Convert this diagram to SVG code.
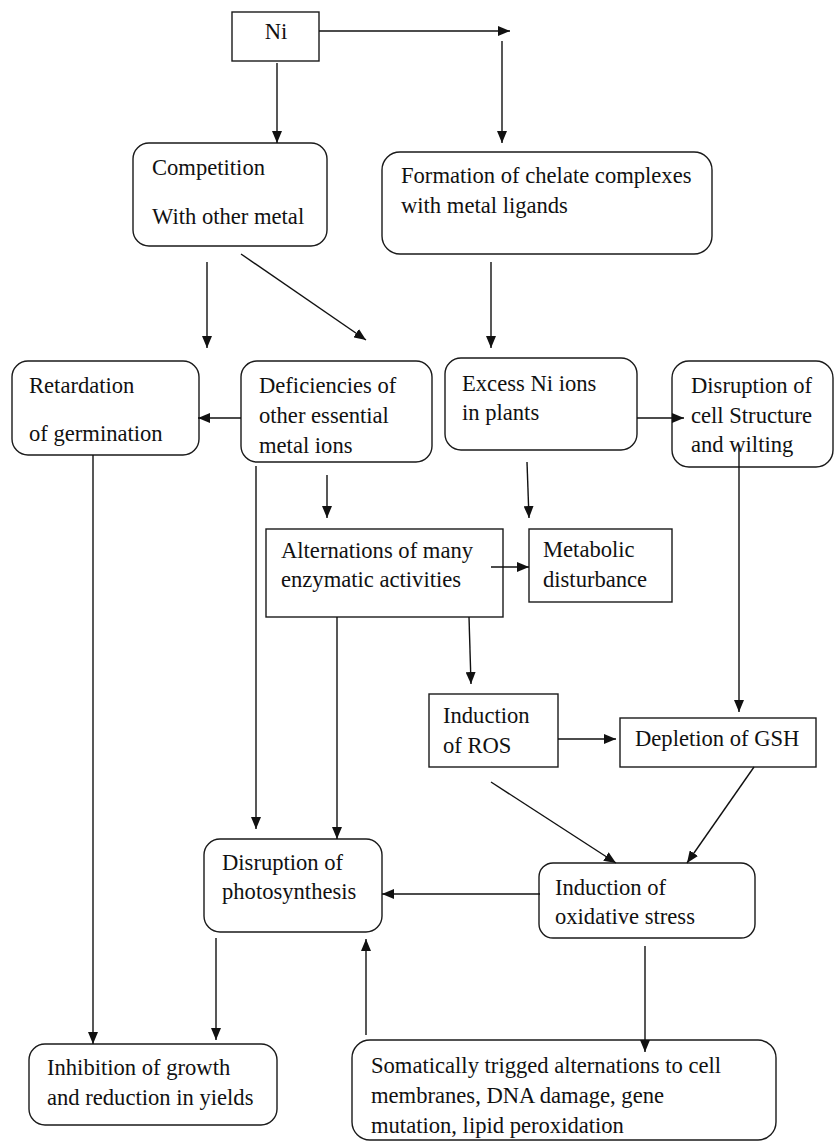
<svg xmlns="http://www.w3.org/2000/svg" width="835" height="1142" viewBox="0 0 835 1142">
<style>
.box{fill:#fff;stroke:#1a1a1a;stroke-width:1.4}
.t{font-family:"Liberation Serif","Times New Roman",serif;font-size:22.6px;fill:#111}
.c{fill:none;stroke:#111;stroke-width:1.4}
</style>
<defs>
<marker id="ah" markerUnits="userSpaceOnUse" markerWidth="12" markerHeight="10" refX="12" refY="5" orient="auto">
<path d="M0,0 L12,5 L0,10 z" fill="#111"/>
</marker>
</defs>
<rect width="835" height="1142" fill="#fff"/>
<g id="ni">
<rect class="box" x="232" y="12" width="87" height="49"/>
<text class="t" x="276" y="39" text-anchor="middle">Ni</text>
</g>
<g id="competition">
<rect class="box" x="133" y="143" width="194" height="103" rx="16"/>
<text class="t" x="152" y="175">Competition</text>
<text class="t" x="152" y="224">With other metal</text>
</g>
<g id="formation">
<rect class="box" x="382" y="152" width="330" height="102" rx="18"/>
<text class="t" x="401" y="183">Formation of chelate complexes</text>
<text class="t" x="401" y="213">with metal ligands</text>
</g>
<g id="retardation">
<rect class="box" x="12" y="361" width="187" height="94" rx="16"/>
<text class="t" x="29" y="393">Retardation</text>
<text class="t" x="29" y="441">of germination</text>
</g>
<g id="deficiencies">
<rect class="box" x="241" y="361" width="191" height="101" rx="16"/>
<text class="t" x="259" y="393">Deficiencies of</text>
<text class="t" x="259" y="423">other essential</text>
<text class="t" x="259" y="453">metal ions</text>
</g>
<g id="excess">
<rect class="box" x="445" y="358" width="192" height="92" rx="16"/>
<text class="t" x="462" y="391">Excess Ni ions</text>
<text class="t" x="462" y="420">in plants</text>
</g>
<g id="disruption-cell">
<rect class="box" x="672" y="361" width="161" height="106" rx="17"/>
<text class="t" x="691" y="393">Disruption of</text>
<text class="t" x="691" y="423">cell Structure</text>
<text class="t" x="691" y="452">and wilting</text>
</g>
<g id="alternations">
<rect class="box" x="266" y="529" width="237" height="88"/>
<text class="t" x="281" y="558">Alternations of many</text>
<text class="t" x="281" y="587">enzymatic activities</text>
</g>
<g id="metabolic">
<rect class="box" x="529" y="529" width="143" height="73"/>
<text class="t" x="543" y="557">Metabolic</text>
<text class="t" x="543" y="587">disturbance</text>
</g>
<g id="ros">
<rect class="box" x="429" y="694" width="129" height="73"/>
<text class="t" x="443" y="723">Induction</text>
<text class="t" x="443" y="753">of ROS</text>
</g>
<g id="gsh">
<rect class="box" x="620" y="718" width="196" height="49"/>
<text class="t" x="635" y="746">Depletion of GSH</text>
</g>
<g id="photosynthesis">
<rect class="box" x="204" y="839" width="178" height="93" rx="16"/>
<text class="t" x="222" y="870">Disruption of</text>
<text class="t" x="222" y="899">photosynthesis</text>
</g>
<g id="oxidative">
<rect class="box" x="539" y="863" width="216" height="75" rx="14"/>
<text class="t" x="555" y="895">Induction of</text>
<text class="t" x="555" y="924">oxidative stress</text>
</g>
<g id="inhibition">
<rect class="box" x="29" y="1044" width="248" height="81" rx="16"/>
<text class="t" x="47" y="1075">Inhibition of growth</text>
<text class="t" x="47" y="1105">and reduction in yields</text>
</g>
<g id="somatic">
<rect class="box" x="352" y="1040" width="424" height="100" rx="18"/>
<text class="t" x="371" y="1073">Somatically trigged alternations to cell</text>
<text class="t" x="371" y="1103">membranes, DNA damage, gene</text>
<text class="t" x="371" y="1133">mutation, lipid peroxidation</text>
</g>
<g id="connectors">
<line class="c" x1="319" y1="31" x2="510" y2="31" marker-end="url(#ah)"/>
<line class="c" x1="502" y1="41" x2="502" y2="143" marker-end="url(#ah)"/>
<line class="c" x1="277" y1="63" x2="277" y2="143" marker-end="url(#ah)"/>
<line class="c" x1="207" y1="262" x2="207" y2="348" marker-end="url(#ah)"/>
<line class="c" x1="241" y1="254" x2="366" y2="340" marker-end="url(#ah)"/>
<line class="c" x1="491" y1="262" x2="491" y2="348" marker-end="url(#ah)"/>
<line class="c" x1="241" y1="418" x2="198" y2="418" marker-end="url(#ah)"/>
<line class="c" x1="637" y1="418" x2="684" y2="418" marker-end="url(#ah)"/>
<line class="c" x1="327" y1="475" x2="327" y2="518" marker-end="url(#ah)"/>
<line class="c" x1="527" y1="462" x2="529" y2="518" marker-end="url(#ah)"/>
<line class="c" x1="491" y1="567" x2="529" y2="567" marker-end="url(#ah)"/>
<line class="c" x1="739" y1="448" x2="739" y2="712" marker-end="url(#ah)"/>
<line class="c" x1="256" y1="466" x2="256" y2="829" marker-end="url(#ah)"/>
<line class="c" x1="337" y1="617" x2="337" y2="839" marker-end="url(#ah)"/>
<line class="c" x1="469" y1="617" x2="471" y2="684" marker-end="url(#ah)"/>
<line class="c" x1="93" y1="455" x2="93" y2="1044" marker-end="url(#ah)"/>
<line class="c" x1="558" y1="739" x2="616" y2="739" marker-end="url(#ah)"/>
<line class="c" x1="491" y1="782" x2="616" y2="863" marker-end="url(#ah)"/>
<line class="c" x1="754" y1="767" x2="687" y2="863" marker-end="url(#ah)"/>
<line class="c" x1="540" y1="894" x2="382" y2="894" marker-end="url(#ah)"/>
<line class="c" x1="216" y1="938" x2="216" y2="1040" marker-end="url(#ah)"/>
<line class="c" x1="366" y1="1035" x2="366" y2="939" marker-end="url(#ah)"/>
<line class="c" x1="645" y1="946" x2="645" y2="1052" marker-end="url(#ah)"/>
</g>
</svg>
